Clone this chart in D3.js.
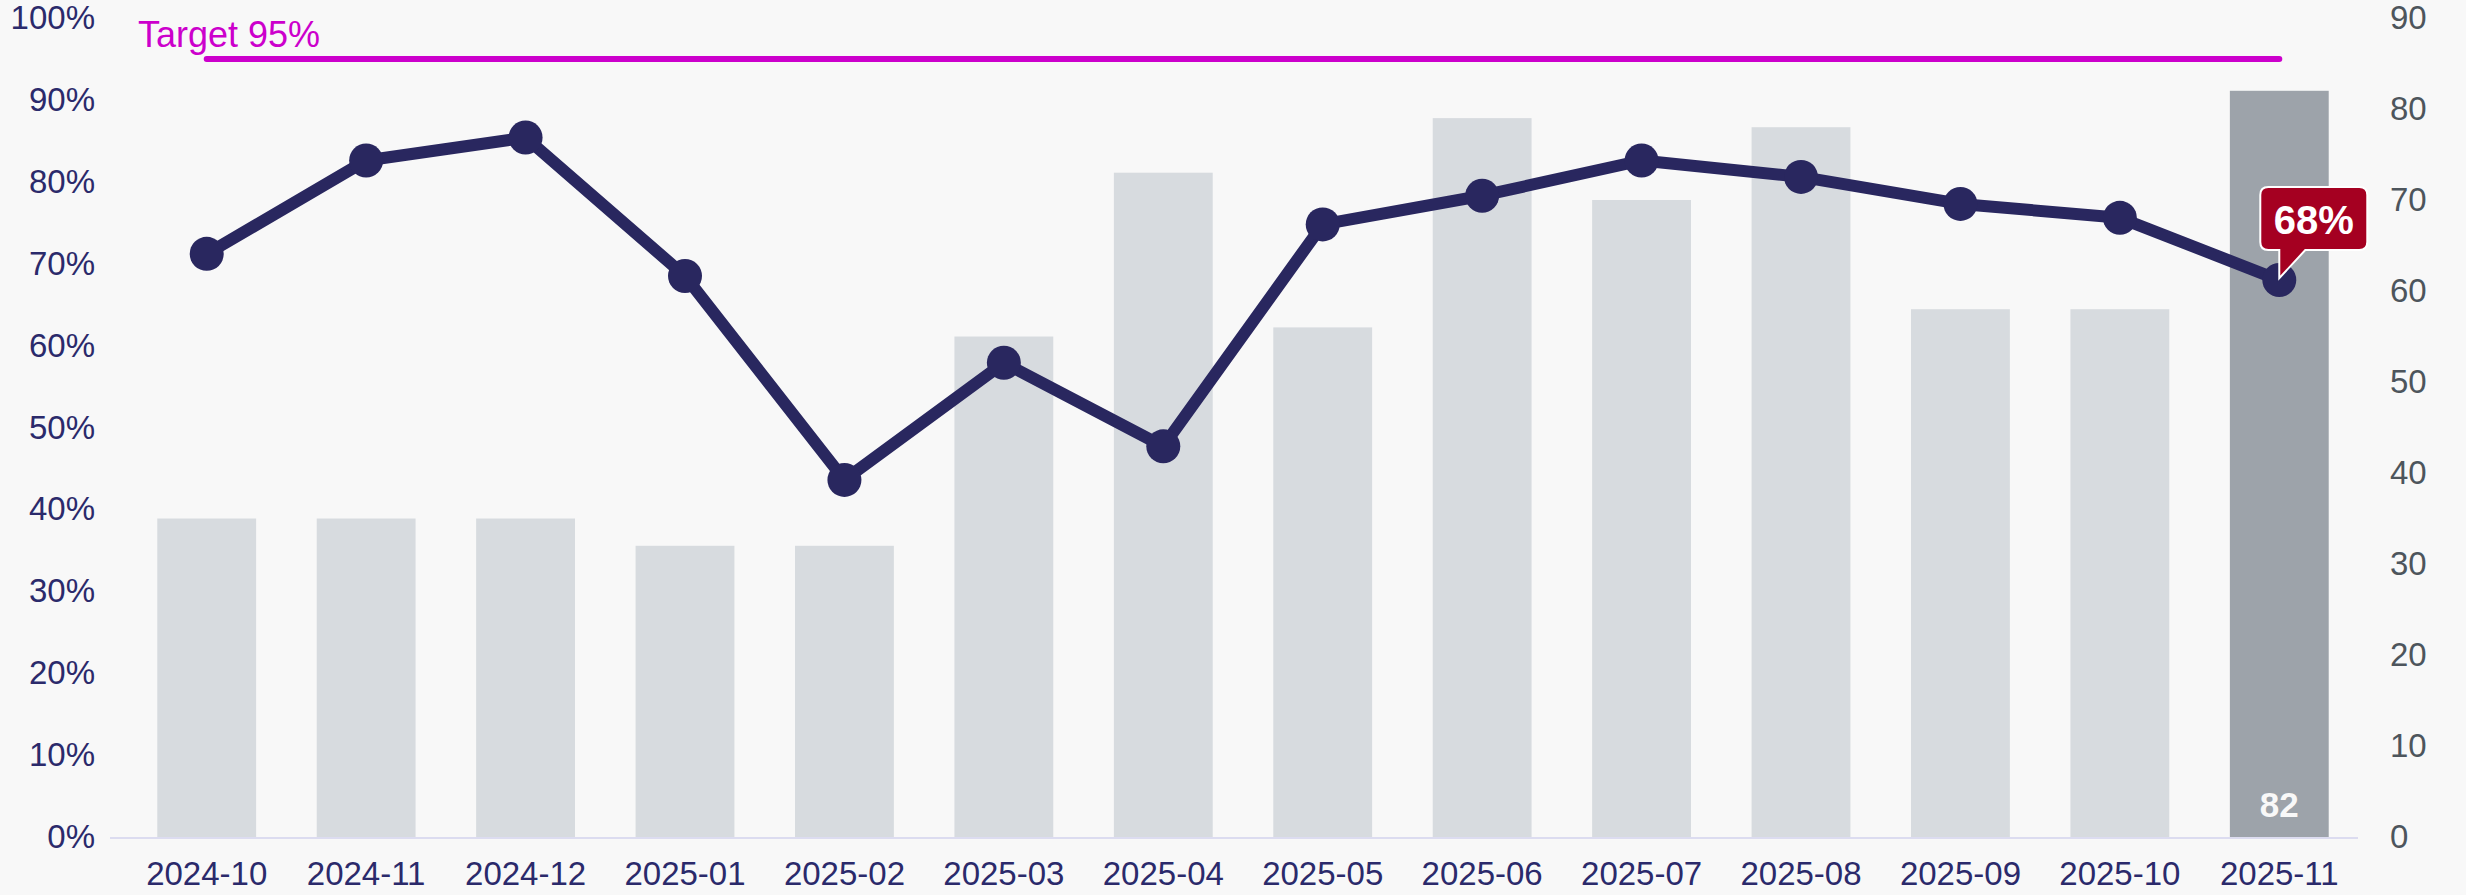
<!DOCTYPE html>
<html>
<head>
<meta charset="utf-8">
<script src="https://cdn.jsdelivr.net/npm/d3@7"></script>
<style>
  html, body { margin: 0; padding: 0; background: #f8f8f8; }
  svg { display: block; }
  text { font-family: "Liberation Sans", Arial, sans-serif; }
</style>
</head>
<body>
<svg id="chart" width="2466" height="895"></svg>
<script>
const categories = ["2024-10","2024-11","2024-12","2025-01","2025-02","2025-03","2025-04","2025-05","2025-06","2025-07","2025-08","2025-09","2025-10","2025-11"];
const rateValues = [71.2, 82.6, 85.4, 68.5, 43.6, 57.9, 47.7, 74.8, 78.3, 82.6, 80.6, 77.3, 75.6, 68.0];
const countValues = [35, 35, 35, 32, 32, 55, 73, 56, 79, 70, 78, 58, 58, 82];
const targetValue = 95;
const targetLabel = "Target 95%";
const leftTicks = [0, 10, 20, 30, 40, 50, 60, 70, 80, 90, 100];
const rightTicks = [0, 10, 20, 30, 40, 50, 60, 70, 80, 90];

(function () {
const W = 2466, H = 895;
const svg = d3.select("#chart");
svg.append("rect").attr("width", W).attr("height", H).attr("fill", "#f8f8f8");

const baseY = 837, topY = 18;
const x = d3.scaleBand().domain(categories).range([127, 2359]).paddingInner(0.38).paddingOuter(0.19);
const yL = d3.scaleLinear().domain([0, 100]).range([baseY, topY]);
const yR = d3.scaleLinear().domain([0, 90]).range([baseY, topY]);
const cx = d => x(d) + x.bandwidth() / 2;
const lastIdx = categories.length - 1;

// bars
svg.append("g").selectAll("rect").data(categories).join("rect")
  .attr("x", d => x(d))
  .attr("width", x.bandwidth())
  .attr("y", (d, i) => yR(countValues[i]))
  .attr("height", (d, i) => baseY - yR(countValues[i]))
  .attr("fill", (d, i) => i === lastIdx ? "#9da3aa" : "#d7dbdf");

// baseline
svg.append("line").attr("x1", 110).attr("x2", 2358).attr("y1", baseY + 1).attr("y2", baseY + 1)
  .attr("stroke", "#dcdcf0").attr("stroke-width", 2);

// last bar value label
svg.append("text")
  .attr("x", cx(categories[lastIdx])).attr("y", baseY - 20)
  .attr("text-anchor", "middle").attr("font-size", 35).attr("font-weight", "bold")
  .attr("fill", "#f8f8f8").text(countValues[lastIdx]);

const ff = "'Liberation Sans', Arial, sans-serif";
// left axis
const gL = svg.append("g").attr("transform", "translate(95,0)")
  .call(d3.axisLeft(yL).tickValues(leftTicks).tickSize(0).tickPadding(0).tickFormat(d => d + "%"));
gL.select(".domain").remove();
gL.selectAll("text").attr("font-size", 33).attr("fill", "#2b2a6b").attr("font-family", ff);

// right axis
const gR = svg.append("g").attr("transform", "translate(2390,0)")
  .call(d3.axisRight(yR).tickValues(rightTicks).tickSize(0).tickPadding(0));
gR.select(".domain").remove();
gR.selectAll("text").attr("font-size", 33).attr("fill", "#4d555c").attr("font-family", ff);

// bottom axis
const gB = svg.append("g").attr("transform", `translate(0,${baseY})`)
  .call(d3.axisBottom(x).tickSize(0).tickPadding(25));
gB.select(".domain").remove();
gB.selectAll("text").attr("font-size", 33).attr("fill", "#2b2a6b").attr("font-family", ff);

// target line
svg.append("line")
  .attr("x1", cx(categories[0])).attr("x2", cx(categories[lastIdx]))
  .attr("y1", yL(targetValue)).attr("y2", yL(targetValue))
  .attr("stroke", "#cc00cc").attr("stroke-width", 6).attr("stroke-linecap", "round");
svg.append("text")
  .attr("x", 138).attr("y", yL(targetValue) - 12)
  .attr("font-size", 36).attr("fill", "#cc00cc").text(targetLabel);

// rate line
const line = d3.line().x((d, i) => cx(categories[i])).y(d => yL(d));
svg.append("path").datum(rateValues).attr("d", line)
  .attr("fill", "none").attr("stroke", "#29275f").attr("stroke-width", 12)
  .attr("stroke-linejoin", "round");
svg.append("g").selectAll("circle").data(rateValues).join("circle")
  .attr("cx", (d, i) => cx(categories[i])).attr("cy", d => yL(d)).attr("r", 17)
  .attr("fill", "#29275f");

// callout for last value
const px = cx(categories[lastIdx]), py = yL(rateValues[lastIdx]);
const bl = px - 19, br = px + 88, bt = py - 93, bb = py - 30, r = 8;
const p = `M${bl + r},${bt} H${br - r} Q${br},${bt} ${br},${bt + r} V${bb - r} Q${br},${bb} ${br - r},${bb} H${px + 26} L${px},${py - 2} L${px},${bb} H${bl + r} Q${bl},${bb} ${bl},${bb - r} V${bt + r} Q${bl},${bt} ${bl + r},${bt} Z`;
svg.append("path").attr("d", p).attr("fill", "#a50021").attr("stroke", "#ffffff").attr("stroke-width", 2);
svg.append("text")
  .attr("x", (bl + br) / 2).attr("y", bt + 47)
  .attr("text-anchor", "middle").attr("font-size", 40).attr("font-weight", "bold")
  .attr("fill", "#ffffff").text(Math.round(rateValues[lastIdx]) + "%");
})();
</script>
</body>
</html>
